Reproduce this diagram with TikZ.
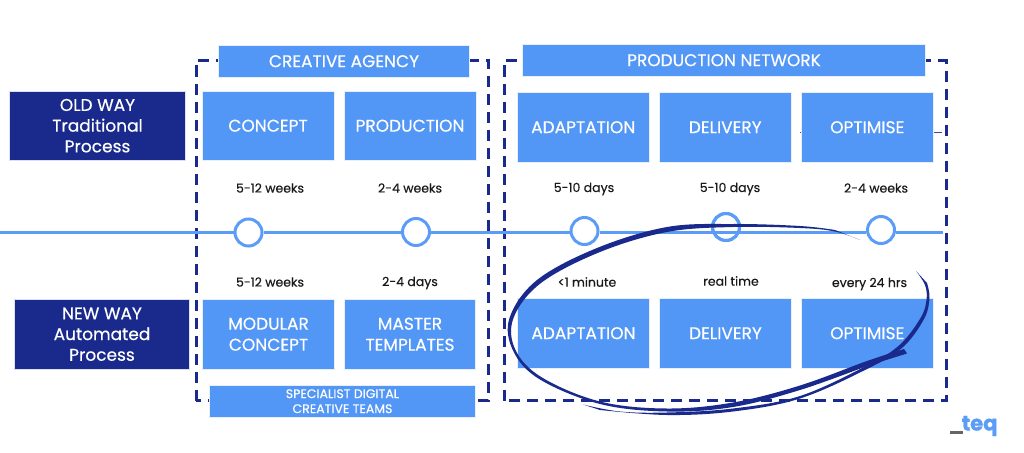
\documentclass[tikz,border=0pt]{standalone}
\usepackage{fontspec}
\setmainfont[RawFeature={embolden=0.4}]{Poppins}
\newfontfamily\logofont[RawFeature={embolden=1.2}]{Poppins}
\definecolor{bl}{HTML}{5296F6}
\definecolor{nv}{HTML}{1A2A8C}
\definecolor{ln}{HTML}{5A9CF6}
\tikzset{
 x=1pt,y=-1pt,
 bx/.style={fill=bl,draw=white!85!bl,line width=.3pt,text=white,inner sep=0pt,align=center,font=\fontsize{17}{21}\selectfont},
 hd/.style={bx,fill=bl},
 way/.style={bx,fill=nv,draw=white!85!nv,font=\fontsize{17}{20.7}\selectfont},
 lab/.style={text=black!90,inner sep=0pt,font=\fontsize{12.5}{15}\selectfont},
 ring/.style={circle,draw=ln,line width=3pt,fill=white,minimum size=27pt,inner sep=0pt},
 tl/.style={draw=ln,line width=3pt},
 dbox/.style={draw=nv,line width=3pt,dash pattern=on 11pt off 7pt},
}
\newcommand{\boxn}[6]{\node[#1,minimum width=#4pt-#3pt,minimum height=#6pt-#5pt,anchor=center] (#2) at ({(#3+#4)/2-.5},{(#5+#6)/2-.8})}
\begin{document}
\begin{tikzpicture}
\useasboundingbox (0,0) rectangle (1024,452);
% dashed frames
\draw[dbox] (196,400.5) -- (196,60.5) -- (488.5,60.5) -- (488.5,400.5) -- cycle;
\draw[dbox] (504,400.5) -- (504,60.5) -- (946,60.5) -- (946,400.5) -- cycle;
% header boxes
\boxn{hd}{ca}{219}{470}{46}{78} {CREATIVE AGENCY};
\boxn{hd}{pn}{523}{926}{45}{77} {PRODUCTION NETWORK};
\boxn{way}{old}{10}{186}{92}{161} {OLD WAY\\Traditional\\Process};
\boxn{way}{new}{15}{190}{300}{370} {NEW WAY\\Automated\\Process};
\boxn{bx}{c1}{202.5}{334.5}{92}{161} {CONCEPT};
\boxn{bx}{c2}{344.5}{476.5}{92}{161} {PRODUCTION};
\boxn{bx}{c3}{517.5}{650}{93}{163} {ADAPTATION};
\boxn{bx}{c4}{659.5}{792}{93}{163} {DELIVERY};
\boxn{bx}{c5}{801.5}{934}{93}{163} {OPTIMISE};
\boxn{bx}{m1}{203}{335}{300}{370} {MODULAR\\CONCEPT};
\boxn{bx}{m2}{345}{476}{300}{370} {MASTER\\TEMPLATES};
\boxn{bx}{m3}{518}{650}{299}{369} {ADAPTATION};
\boxn{bx}{m4}{660}{792}{299}{369} {DELIVERY};
\boxn{bx}{m5}{801.5}{934}{299}{369} {OPTIMISE};
\boxn{bx,font=\fontsize{12.5}{15}\selectfont}{sp}{210}{476}{386}{418} {SPECIALIST DIGITAL\\CREATIVE TEAMS};
% stray ticks
\coordinate (t1) at (942,132);
\coordinate (t2) at (799.5,132);
\draw[nv!70!bl,line width=.6pt] (t1) -- (t1-|c5.east);
\draw[nv!70!bl,line width=.6pt] (t2) -- (t2-|c5.west);
% timeline
\coordinate (ls) at (0,232);
\coordinate (le) at (943,232);
\node[ring] (r1) at (248.5,232.5) {};
\node[ring] (r2) at (416,232) {};
\node[ring] (r3) at (584.5,231) {};
\node[ring] (r4) at (726,227) {};
\node[ring] (r5) at (881,230) {};
\draw[tl] (ls) -- (r1.west|-ls);
\draw[tl] (r1.east|-ls) -- (r2.west|-ls);
\draw[tl] (r2.east|-ls) -- (r3.west|-ls);
\draw[tl] (r3.east|-ls) -- (r5.west|-ls);
\draw[tl] (r5.east|-ls) -- (le);
\node[ring,fill=none] (r4b) at (726,227) {};
% labels
\node[lab] (a1) at (270,188) {5-12 weeks};
\node[lab] (a2) at (410,188) {2-4 weeks};
\node[lab] (a3) at (584,189) {5-10 days};
\node[lab] (a4) at (730,189) {5-10 days};
\node[lab] (a5) at (876,188) {2-4 weeks};
\node[lab] (b1) at (270,282) {5-12 weeks};
\node[lab] (b2) at (410,283) {2-4 days};
\node[lab] (b3) at (587,282) {<1 minute};
\node[lab] (b4) at (731,281) {real time};
\node[lab] (b5) at (869.5,284) {every 24 hrs};
% swoosh
\fill[nv] plot[smooth,tension=.6] coordinates {(860,240) (835,231.5) (800,228) (733,227) (667,232) (600,252) (541,283) (513.5,318) (515.5,350) (542,377.5) (600,401.5) (667,408.5) (733,402.5) (800,385.5) (867,361) (904,349)}
 -- (907,353.5) -- plot[smooth,tension=.6] coordinates {(867,366) (800,390) (733,407) (667,411.5) (600,404) (540,379.5) (513.5,351.5) (509.5,318) (537,280) (597,248) (667,227) (733,224) (800,226) (835,230)} -- cycle;
\fill[nv] plot[smooth,tension=.6] coordinates {(916,271) (925,285) (926.5,300) (920.5,318) (899.5,345) (867,365.5) (800,396) (733,408.5) (667,412.5) (620,411.5) (583,404.5)}
 -- plot[smooth,tension=.6] coordinates {(600,410) (667,415) (733,411.5) (800,398.5) (867,369) (902.5,347.5) (924,319) (929.5,298) (927,283)} -- cycle;
% logo
\node[inner sep=0pt,text=ln,font=\logofont\bfseries\fontsize{21}{24}\selectfont,anchor=base west] (teq) at (961.5,430.5) {teq};
\fill[black!60] (950,431) rectangle (962.5,434);
\end{tikzpicture}
\end{document}
